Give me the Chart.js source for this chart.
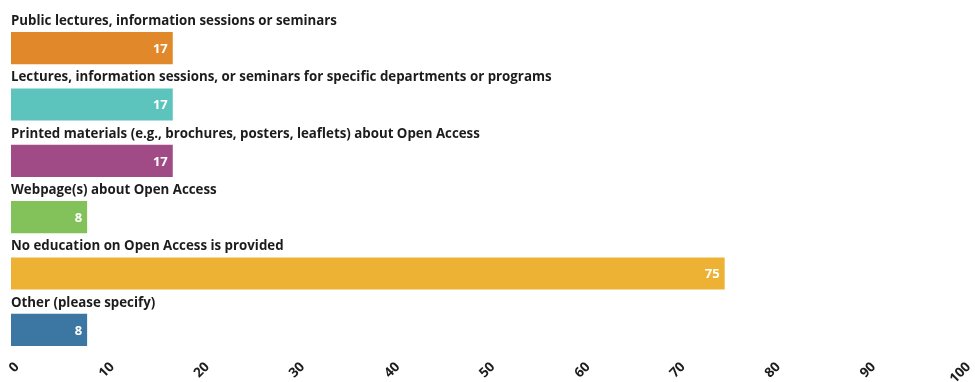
<!DOCTYPE html>
<html lang="en">
<head>
    <meta charset="UTF-8">
    <title>Open Access education</title>
    <script src="https://cdn.jsdelivr.net/npm/chart.js"></script>
    <style>
        * { margin: 0; padding: 0; box-sizing: border-box; }
        body { background: #fff; width: 975px; height: 382px; overflow: hidden; }
        #wrap { position: relative; width: 975px; height: 382px; }
    </style>
</head>
<body>
    <div id="wrap"><canvas id="chart"></canvas></div>
    <script>
        const categories = [
            "Public lectures, information sessions or seminars",
            "Lectures, information sessions, or seminars for specific departments or programs",
            "Printed materials (e.g., brochures, posters, leaflets) about Open Access",
            "Webpage(s) about Open Access",
            "No education on Open Access is provided",
            "Other (please specify)"
        ];
        const values = [17, 17, 17, 8, 75, 8];
        const barColors = ["#e0882a", "#5dc4bd", "#a04b85", "#83c25a", "#edb233", "#3b77a2"];
        const xTicks = [0, 10, 20, 30, 40, 50, 60, 70, 80, 90, 100];

        const FONT = "'Open Sans', 'Noto Sans', sans-serif";
        const TEXT = "#1c1c1c";

        // category captions above each bar, value labels inside the bar end
        const barText = {
            id: 'barText',
            afterDatasetsDraw(chart) {
                const ctx = chart.ctx;
                const meta = chart.getDatasetMeta(0);
                const left = chart.chartArea.left;
                ctx.save();
                meta.data.forEach((bar, i) => {
                    const top = bar.y - bar.height / 2;
                    ctx.font = "bold 13.3px " + FONT;
                    ctx.fillStyle = TEXT;
                    ctx.textAlign = 'left';
                    ctx.textBaseline = 'alphabetic';
                    ctx.fillText(categories[i], left, top - 7);

                    ctx.font = "bold 13px " + FONT;
                    ctx.fillStyle = '#ffffff';
                    ctx.textAlign = 'right';
                    ctx.textBaseline = 'middle';
                    ctx.fillText(String(values[i]), bar.x - 5, bar.y + 1);
                });
                ctx.restore();
            }
        };

        new Chart(document.getElementById('chart'), {
            type: 'bar',
            data: {
                labels: categories,
                datasets: [{
                    data: values,
                    backgroundColor: barColors,
                    borderWidth: 0,
                    barPercentage: 1,
                    categoryPercentage: 0.57
                }]
            },
            options: {
                indexAxis: 'y',
                responsive: true,
                maintainAspectRatio: false,
                animation: false,
                layout: { padding: { left: 11, right: 9, top: 20, bottom: 0 } },
                plugins: {
                    legend: { display: false },
                    tooltip: { enabled: false }
                },
                scales: {
                    y: { display: false },
                    x: {
                        min: 0,
                        max: 100,
                        afterBuildTicks(axis) {
                            axis.ticks = xTicks.map(v => ({ value: v }));
                        },
                        afterFit(axis) {
                            axis.height = 24;
                        },
                        grid: { display: false, drawTicks: false, tickLength: 0 },
                        border: { display: false },
                        ticks: {
                            minRotation: 45,
                            maxRotation: 45,
                            padding: 1,
                            labelOffset: 6,
                            color: TEXT,
                            font: { family: FONT, size: 13.5, weight: 'bold' }
                        }
                    }
                }
            },
            plugins: [barText]
        });
    </script>
</body>
</html>
